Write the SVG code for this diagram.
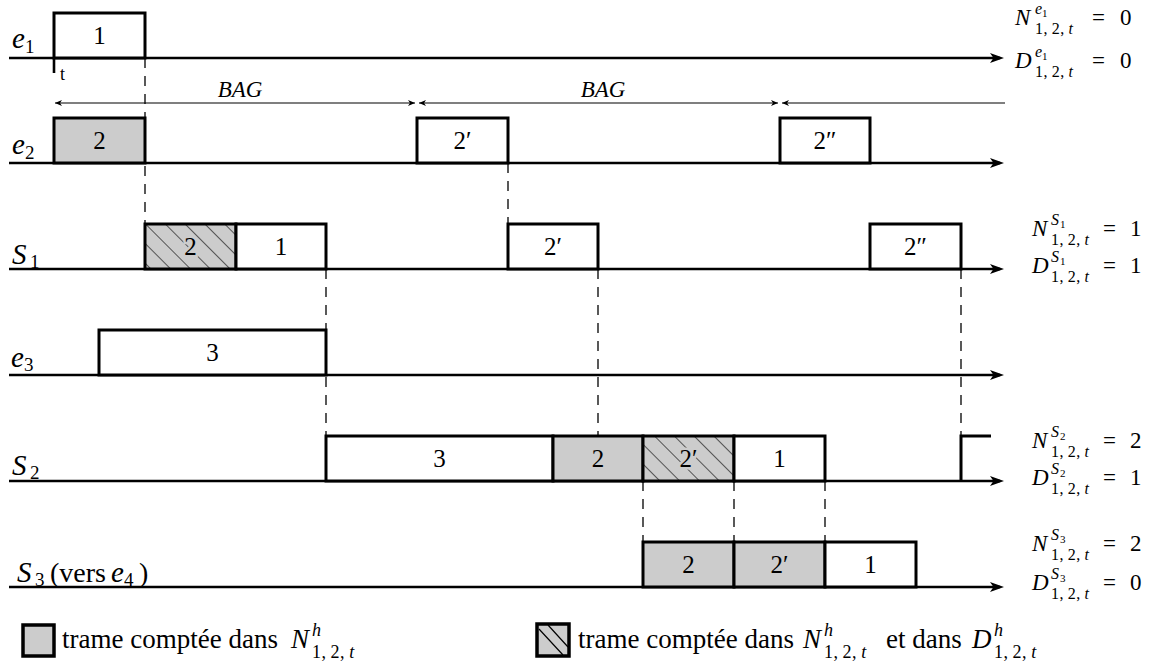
<svg xmlns="http://www.w3.org/2000/svg" width="1162" height="666" viewBox="0 0 1162 666">
<style>
.f{font-family:'Liberation Serif',serif}
.it{font-style:italic}
.big{font-size:29px}
.lsub{font-size:19px}
.m{font-size:23px}
.s{font-size:16px}
.ss{font-size:11px}
.ls{font-size:18px}
.d{font-size:25px;text-anchor:middle}
.leg{font-size:27px}
.tl{fill:none;stroke:#000;stroke-width:2.6}
.bx{stroke:#000;stroke-width:3}
.w{fill:#fff}
.g{fill:#ccc}
.h{fill:url(#hatch)}
.dash{fill:none;stroke:#000;stroke-width:1.3;stroke-dasharray:10 8}
.bag{fill:none;stroke:#000;stroke-width:1.1}
.halo{stroke:#ccc;stroke-width:5;paint-order:stroke}
</style>
<defs>
<marker id="arr" markerUnits="userSpaceOnUse" markerWidth="16" markerHeight="12" refX="10" refY="5" orient="auto">
<path d="M0,0 L14,5 L0,10 L3.5,5 Z" fill="#000"/>
</marker>
<marker id="sarr" markerUnits="userSpaceOnUse" markerWidth="10" markerHeight="8" refX="7" refY="3" orient="auto-start-reverse">
<path d="M0,0 L7,3 L0,6 L2,3 Z" fill="#000"/>
</marker>
<pattern id="hatch" patternUnits="userSpaceOnUse" width="14" height="14" patternTransform="rotate(-45)">
<rect width="14" height="14" fill="#ccc"/>
<line x1="0" y1="0" x2="0" y2="14" stroke="#000" stroke-width="1.2"/>
</pattern>
</defs>

<g id="connectors">
<path class="tl" d="M9,58 H1000" marker-end="url(#arr)"/>
<path class="tl" d="M9,163 H1000" marker-end="url(#arr)"/>
<path class="tl" d="M9,269 H1000" marker-end="url(#arr)"/>
<path class="tl" d="M9,375 H1000" marker-end="url(#arr)"/>
<path class="tl" d="M9,481 H1000" marker-end="url(#arr)"/>
<path class="tl" d="M9,587 H1000" marker-end="url(#arr)"/>
<path class="tl" d="M54,58 V73"/>
<path class="bag" d="M55,103 H415" marker-start="url(#sarr)" marker-end="url(#sarr)"/>
<path class="bag" d="M419,103 H778" marker-start="url(#sarr)" marker-end="url(#sarr)"/>
<path class="bag" d="M782,103 H1005" marker-start="url(#sarr)"/>
<path class="dash" d="M145,58 V224"/>
<path class="dash" d="M508,163 V224"/>
<path class="dash" d="M326,269 V436"/>
<path class="dash" d="M598,269 V436"/>
<path class="dash" d="M961,269 V436"/>
<path class="dash" d="M643,481 V542"/>
<path class="dash" d="M734,481 V542"/>
<path class="dash" d="M825,481 V542"/>
<path class="tl" d="M961,481 V436 H991" style="stroke-width:3"/>
</g>

<g id="labels-left">
<text x="12" y="48" class="f big it">e</text><text x="25" y="53" class="f lsub">1</text>
<text x="12" y="154" class="f big it">e</text><text x="25" y="159" class="f lsub">2</text>
<text x="12" y="264" class="f big it">S</text><text x="30" y="268" class="f lsub">1</text>
<text x="11" y="367" class="f big it">e</text><text x="24" y="371" class="f lsub">3</text>
<text x="12" y="475" class="f big it">S</text><text x="30" y="479" class="f lsub">2</text>
<g id="s3label">
<text x="17" y="582" class="f big it">S</text><text x="35" y="586" class="f lsub">3</text>
<text x="50" y="582" class="f" font-size="28">(vers</text>
<text x="111" y="582" class="f big it">e</text><text x="124" y="586" class="f lsub">4</text>
<text x="139" y="582" class="f" font-size="28">)</text>
</g>
<text x="60" y="80" class="f" font-size="18">t</text>
<text x="240" y="97" class="f m it" text-anchor="middle">BAG</text>
<text x="603" y="97" class="f m it" text-anchor="middle">BAG</text>
</g>

<g id="e1-frames">
<rect class="bx w" x="54" y="13" width="91" height="45"/><text class="f d" x="99.5" y="44">1</text>
</g>
<g id="e2-frames">
<rect class="bx g" x="54" y="118" width="91" height="45"/><text class="f d" x="99.5" y="149">2</text>
<rect class="bx w" x="417" y="118" width="91" height="45"/><text class="f d" x="462.5" y="149">2′</text>
<rect class="bx w" x="780" y="118" width="90" height="45"/><text class="f d" x="825" y="149">2″</text>
</g>
<g id="s1-frames">
<rect class="bx h" x="145" y="224" width="91" height="45"/><text class="f d halo" x="190.5" y="255">2</text>
<rect class="bx w" x="236" y="224" width="90" height="45"/><text class="f d" x="281" y="255">1</text>
<rect class="bx w" x="508" y="224" width="90" height="45"/><text class="f d" x="553" y="255">2′</text>
<rect class="bx w" x="870" y="224" width="91" height="45"/><text class="f d" x="915.5" y="255">2″</text>
</g>
<g id="e3-frames">
<rect class="bx w" x="99" y="330" width="227" height="45"/><text class="f d" x="212.5" y="361">3</text>
</g>
<g id="s2-frames">
<rect class="bx w" x="326" y="436" width="227" height="45"/><text class="f d" x="439.5" y="467">3</text>
<rect class="bx g" x="553" y="436" width="90" height="45"/><text class="f d" x="598" y="467">2</text>
<rect class="bx h" x="643" y="436" width="91" height="45"/><text class="f d halo" x="688.5" y="467">2′</text>
<rect class="bx w" x="734" y="436" width="91" height="45"/><text class="f d" x="779.5" y="467">1</text>
</g>
<g id="s3-frames">
<rect class="bx g" x="643" y="542" width="91" height="45"/><text class="f d" x="688.5" y="573">2</text>
<rect class="bx g" x="734" y="542" width="91" height="45"/><text class="f d" x="779.5" y="573">2′</text>
<rect class="bx w" x="825" y="542" width="91" height="45"/><text class="f d" x="870.5" y="573">1</text>
</g>

<g id="counts-e1">
<text x="1015" y="25" class="f m it">N</text><text x="1035" y="14" class="f s it">e</text><text x="1042" y="17" class="f ss">1</text>
<text x="1035" y="34" class="f s" letter-spacing="0.5">1,&#8201;2,&#8201;<tspan class="it">t</tspan></text>
<text x="1092" y="25" class="f m">=</text><text x="1120" y="25" class="f m">0</text>
<text x="1015" y="68" class="f m it">D</text><text x="1035" y="57" class="f s it">e</text><text x="1042" y="60" class="f ss">1</text>
<text x="1035" y="77" class="f s" letter-spacing="0.5">1,&#8201;2,&#8201;<tspan class="it">t</tspan></text>
<text x="1092" y="68" class="f m">=</text><text x="1120" y="68" class="f m">0</text>
</g>
<g id="counts-s1">
<text x="1032" y="236" class="f m it">N</text><text x="1051" y="225" class="f s it">S</text><text x="1060" y="228" class="f ss">1</text>
<text x="1051" y="245" class="f s" letter-spacing="0.5">1,&#8201;2,&#8201;<tspan class="it">t</tspan></text>
<text x="1103" y="236" class="f m">=</text><text x="1130" y="236" class="f m">1</text>
<text x="1032" y="273" class="f m it">D</text><text x="1051" y="262" class="f s it">S</text><text x="1060" y="265" class="f ss">1</text>
<text x="1051" y="282" class="f s" letter-spacing="0.5">1,&#8201;2,&#8201;<tspan class="it">t</tspan></text>
<text x="1103" y="273" class="f m">=</text><text x="1130" y="273" class="f m">1</text>
</g>
<g id="counts-s2">
<text x="1032" y="448" class="f m it">N</text><text x="1051" y="437" class="f s it">S</text><text x="1060" y="440" class="f ss">2</text>
<text x="1051" y="457" class="f s" letter-spacing="0.5">1,&#8201;2,&#8201;<tspan class="it">t</tspan></text>
<text x="1103" y="448" class="f m">=</text><text x="1130" y="448" class="f m">2</text>
<text x="1032" y="485" class="f m it">D</text><text x="1051" y="474" class="f s it">S</text><text x="1060" y="477" class="f ss">2</text>
<text x="1051" y="494" class="f s" letter-spacing="0.5">1,&#8201;2,&#8201;<tspan class="it">t</tspan></text>
<text x="1103" y="485" class="f m">=</text><text x="1130" y="485" class="f m">1</text>
</g>
<g id="counts-s3">
<text x="1032" y="551" class="f m it">N</text><text x="1051" y="540" class="f s it">S</text><text x="1060" y="543" class="f ss">3</text>
<text x="1051" y="560" class="f s" letter-spacing="0.5">1,&#8201;2,&#8201;<tspan class="it">t</tspan></text>
<text x="1103" y="551" class="f m">=</text><text x="1130" y="551" class="f m">2</text>
<text x="1032" y="590" class="f m it">D</text><text x="1051" y="579" class="f s it">S</text><text x="1060" y="582" class="f ss">3</text>
<text x="1051" y="599" class="f s" letter-spacing="0.5">1,&#8201;2,&#8201;<tspan class="it">t</tspan></text>
<text x="1103" y="590" class="f m">=</text><text x="1130" y="590" class="f m">0</text>
</g>

<g id="legend-gray">
<rect x="23" y="625" width="31" height="31" fill="#ccc" stroke="#000" stroke-width="3.5"/>
<text x="62" y="648" class="f leg">trame comptée dans</text>
<text x="291" y="648" class="f leg it">N</text>
<text x="312" y="636" class="f ls it">h</text>
<text x="312" y="658" class="f ls" letter-spacing="0.5">1,&#8201;2,&#8201;<tspan class="it">t</tspan></text>
</g>
<g id="legend-hatch">
<rect x="537" y="624" width="32" height="32" fill="#ccc" stroke="#000" stroke-width="3.5"/>
<path d="M539,629 L563,655 M548,625 L568,647" stroke="#000" stroke-width="1.2" fill="none"/>
<text x="578" y="648" class="f leg">trame comptée dans</text>
<text x="803" y="648" class="f leg it">N</text>
<text x="824" y="636" class="f ls it">h</text>
<text x="824" y="658" class="f ls" letter-spacing="0.5">1,&#8201;2,&#8201;<tspan class="it">t</tspan></text>
<text x="886" y="648" class="f leg">et dans</text>
<text x="972" y="648" class="f leg it">D</text>
<text x="994" y="636" class="f ls it">h</text>
<text x="994" y="658" class="f ls" letter-spacing="0.5">1,&#8201;2,&#8201;<tspan class="it">t</tspan></text>
</g>
</svg>
